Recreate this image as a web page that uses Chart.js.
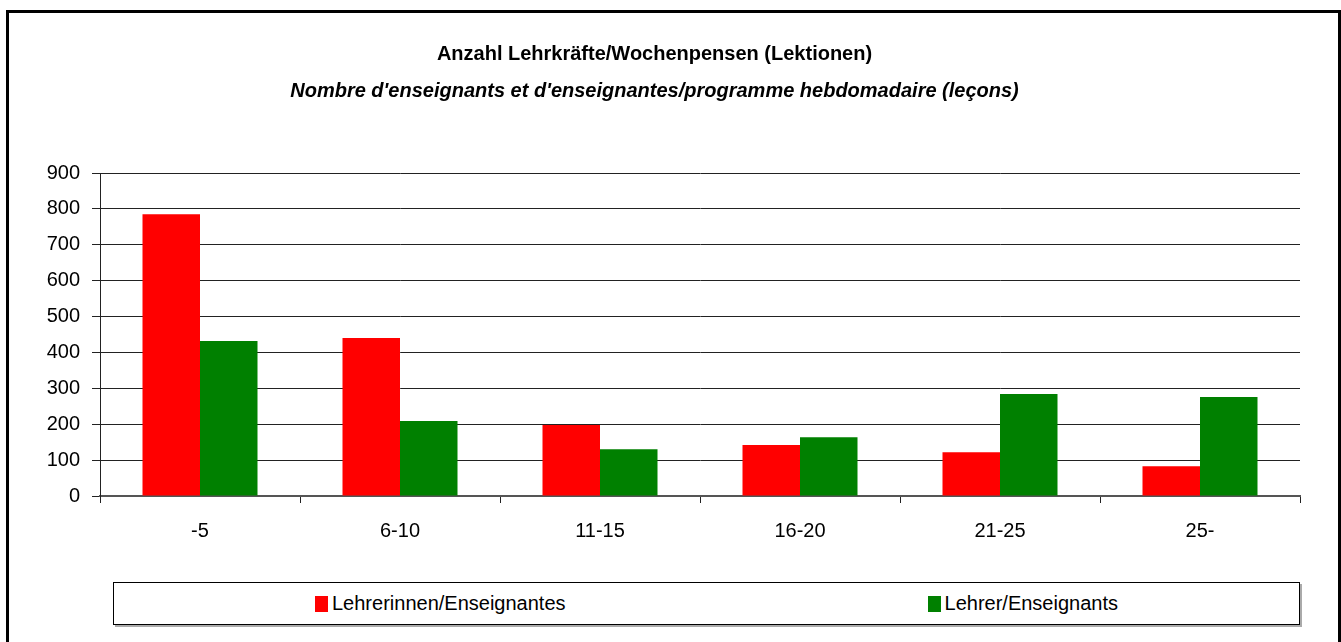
<!DOCTYPE html>
<html>
<head>
<meta charset="utf-8">
<script src="https://cdn.jsdelivr.net/npm/chart.js@4"></script>
<style>
  body { margin: 0; background: #fff; font-family: "Liberation Sans", Arial, sans-serif; }
  #frame { position: absolute; left: 6px; top: 10px; width: 1329px; height: 640px;
           border: 3px solid #000; border-bottom: none; }
  #wrap { position: absolute; left: 0; top: 0; width: 1329px; height: 560px; }
  #legend { position: absolute; left: 104px; top: 569px; width: 1165px; height: 41px;
            border: 1px solid #000; box-shadow: 2px 2px 0 #aaa;
            display: flex; justify-content: space-around; align-items: center;
            padding-left: 20px; box-sizing: content-box; }
  #legend .item { display: flex; align-items: center; font-size: 20px; color: #000; }
  #legend .box { width: 13px; height: 16px; margin-right: 4px; }
</style>
</head>
<body>
<div id="frame">
  <div id="wrap"><canvas id="chart"></canvas></div>
  <div id="legend"></div>
</div>
<script>
const categories = ['-5', '6-10', '11-15', '16-20', '21-25', '25-'];
const lehrerinnen = [785, 440, 198, 142, 122, 83];
const lehrer = [432, 209, 130, 164, 284, 276];
const seriesNames = ['Lehrerinnen/Enseignantes', 'Lehrer/Enseignants'];
const seriesColors = ['#ff0000', '#008000'];
const yTicks = { min: 0, max: 900, step: 100 };

const fontFamily = '"Liberation Sans", Arial, sans-serif';

const chart = new Chart(document.getElementById('chart'), {
    type: 'bar',
    data: {
        labels: categories,
        datasets: [
            { label: seriesNames[0], data: lehrerinnen, backgroundColor: seriesColors[0] },
            { label: seriesNames[1], data: lehrer, backgroundColor: seriesColors[1] }
        ]
    },
    options: {
        responsive: true,
        maintainAspectRatio: false,
        animation: false,
        categoryPercentage: 0.575,
        barPercentage: 1.0,
        layout: { padding: { left: 0, right: 38, top: 0, bottom: 14 } },
        scales: {
            x: {
                grid: { offset: true, drawOnChartArea: false, tickLength: 7, color: '#222' },
                border: { color: '#555', width: 2 },
                ticks: { color: '#000', font: { family: fontFamily, size: 20 }, padding: 16 }
            },
            y: {
                min: yTicks.min,
                max: yTicks.max,
                afterFit: s => { s.width = 91; },
                grid: { color: '#222', tickLength: 8 },
                border: { color: '#222' },
                ticks: { stepSize: yTicks.step, color: '#000', font: { family: fontFamily, size: 20 }, padding: 12 }
            }
        },
        plugins: {
            legend: { display: false },
            tooltip: { enabled: false },
            title: {
                display: true,
                text: 'Anzahl Lehrkräfte/Wochenpensen (Lektionen)',
                color: '#000',
                font: { family: fontFamily, size: 20, weight: 'bold' },
                padding: { top: 29, bottom: 0 }
            },
            subtitle: {
                display: true,
                text: "Nombre d'enseignants et d'enseignantes/programme hebdomadaire (leçons)",
                color: '#000',
                font: { family: fontFamily, size: 20, weight: 'bold', style: 'italic' },
                padding: { top: 13, bottom: 70 }
            }
        }
    }
});

// Legende im Kasten unten
const legend = document.getElementById('legend');
chart.data.datasets.forEach(ds => {
    const item = document.createElement('div');
    item.className = 'item';
    item.innerHTML = `<span class="box" style="background:${ds.backgroundColor}"></span><span>${ds.label}</span>`;
    legend.appendChild(item);
});
</script>
</body>
</html>
